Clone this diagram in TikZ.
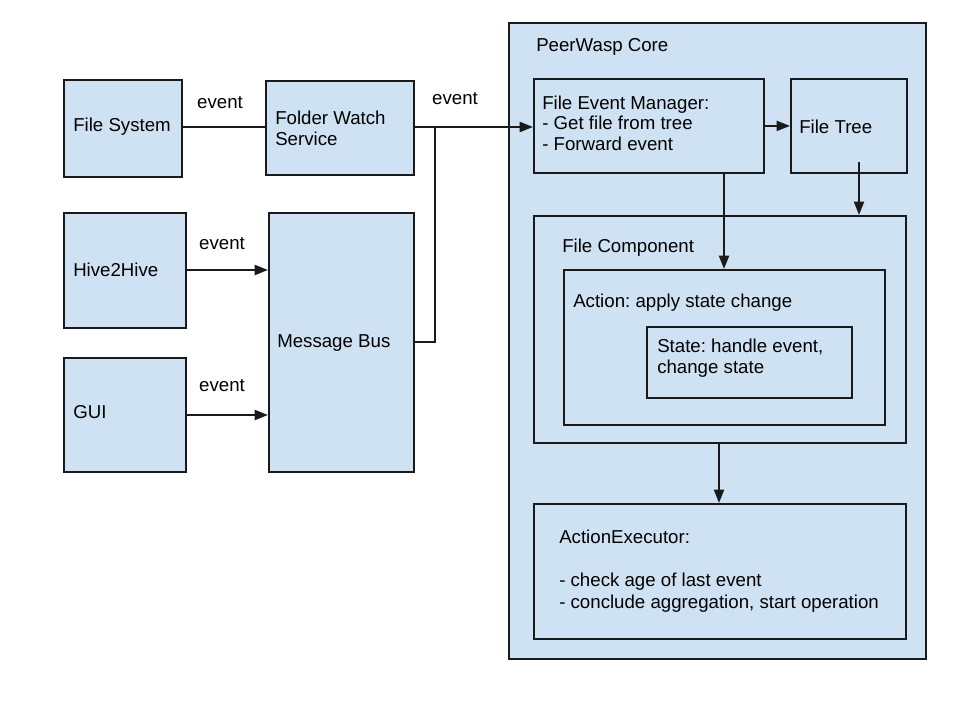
\documentclass[tikz,border=0pt]{standalone}
\usepackage{fontspec}
\setmainfont{Liberation Sans}
\usetikzlibrary{arrows.meta,calc}
\definecolor{boxfill}{HTML}{CFE2F3}
\definecolor{boxline}{HTML}{1A1A1A}
\frenchspacing
\begin{document}
\begin{tikzpicture}[x=0.75pt,y=-0.75pt,
  box/.style={draw=boxline,fill=boxfill,line width=1.4pt,rectangle,inner sep=0pt,anchor=north west},
  txt/.style={anchor=west,inner sep=0pt,align=left,font=\fontsize{14}{15.5}\selectfont},
  conn/.style={draw=boxline,line width=1.5pt},
  arr/.style={conn,-{Triangle[length=10pt,width=7.5pt]}}
]
\useasboundingbox (0,0) rectangle (960,720);
% outer core
\node[box,minimum width=417*0.75pt,minimum height=636*0.75pt] (core) at (508,22) {};
\node[txt] (coret) at (536,47) {PeerWasp Core};
% left boxes
\node[box,minimum width=118*0.75pt,minimum height=97*0.75pt] (fs) at (63,79) {};
\node[txt] (fst) at (73,127) {File System};
\node[box,minimum width=148*0.75pt,minimum height=94*0.75pt] (fws) at (265,80) {};
\node[txt] (fwst) at (275,128) {Folder Watch\\Service};
\node[box,minimum width=122*0.75pt,minimum height=115*0.75pt] (h2h) at (63,212) {};
\node[txt] (h2ht) at (73,270) {Hive2Hive};
\node[box,minimum width=122*0.75pt,minimum height=114*0.75pt] (gui) at (63,357) {};
\node[txt] (guit) at (73,412) {GUI};
\node[box,minimum width=145*0.75pt,minimum height=259*0.75pt] (mb) at (268,212) {};
\node[txt] (mbt) at (277,343) {Message Bus};
% core inner boxes
\node[box,minimum width=230*0.75pt,minimum height=94*0.75pt] (fem) at (533,78) {};
\node[txt] (femt) at (542,123) {File Event Manager:\\- Get file from tree\\- Forward event};
\node[box,minimum width=116*0.75pt,minimum height=94*0.75pt] (ft) at (790,78) {};
\node[txt] (ftt) at (799,127) {File Tree};
\node[box,minimum width=372*0.75pt,minimum height=227*0.75pt] (fc) at (533,215) {};
\node[txt] (fct) at (562,248) {File Component};
\node[box,minimum width=321*0.75pt,minimum height=155*0.75pt] (act) at (563,269) {};
\node[txt] (actt) at (573,303) {Action: apply state change};
\node[box,minimum width=205*0.75pt,minimum height=71*0.75pt] (st) at (646,326) {};
\node[txt] (stt) at (657,358) {State: handle event,\\change state};
\node[box,minimum width=372*0.75pt,minimum height=135*0.75pt] (ae) at (533,503) {};
\node[txt,font=\fontsize{14}{16.5}\selectfont] (aet) at (559,571) {ActionExecutor:\\[16pt]- check age of last event\\- conclude aggregation, start operation};
% labels
\node[txt,anchor=center] (ev1) at (220,103) {event};
\node[txt,anchor=center] (ev2) at (455,99) {event};
\node[txt,anchor=center] (ev3) at (222,244) {event};
\node[txt,anchor=center] (ev4) at (222,386) {event};
% connectors
\coordinate (j) at (435,127);
\coordinate (ftb) at (859,162);
\coordinate (femb) at (724,172);
\coordinate (fcb) at (719,442);
\coordinate (guia) at (185,415);
\draw[conn] (fs.east |- fst) -- (fst -| fws.west);
\draw[arr] (fws.east |- j) -- (j -| fem.west);
\draw[conn] (mb.east) -| (j);
\draw[arr] (h2h.east |- h2ht) -- (h2ht -| mb.west);
\draw[arr] (guia) -- (guia -| mb.west);
\draw[arr] (fem.east) -- (ft.west);
\draw[arr] (ftb) -- (ftb |- fc.north);
\draw[arr] (femb) -- (femb |- act.north);
\draw[arr] (fcb) -- (fcb |- ae.north);
\end{tikzpicture}
\end{document}
